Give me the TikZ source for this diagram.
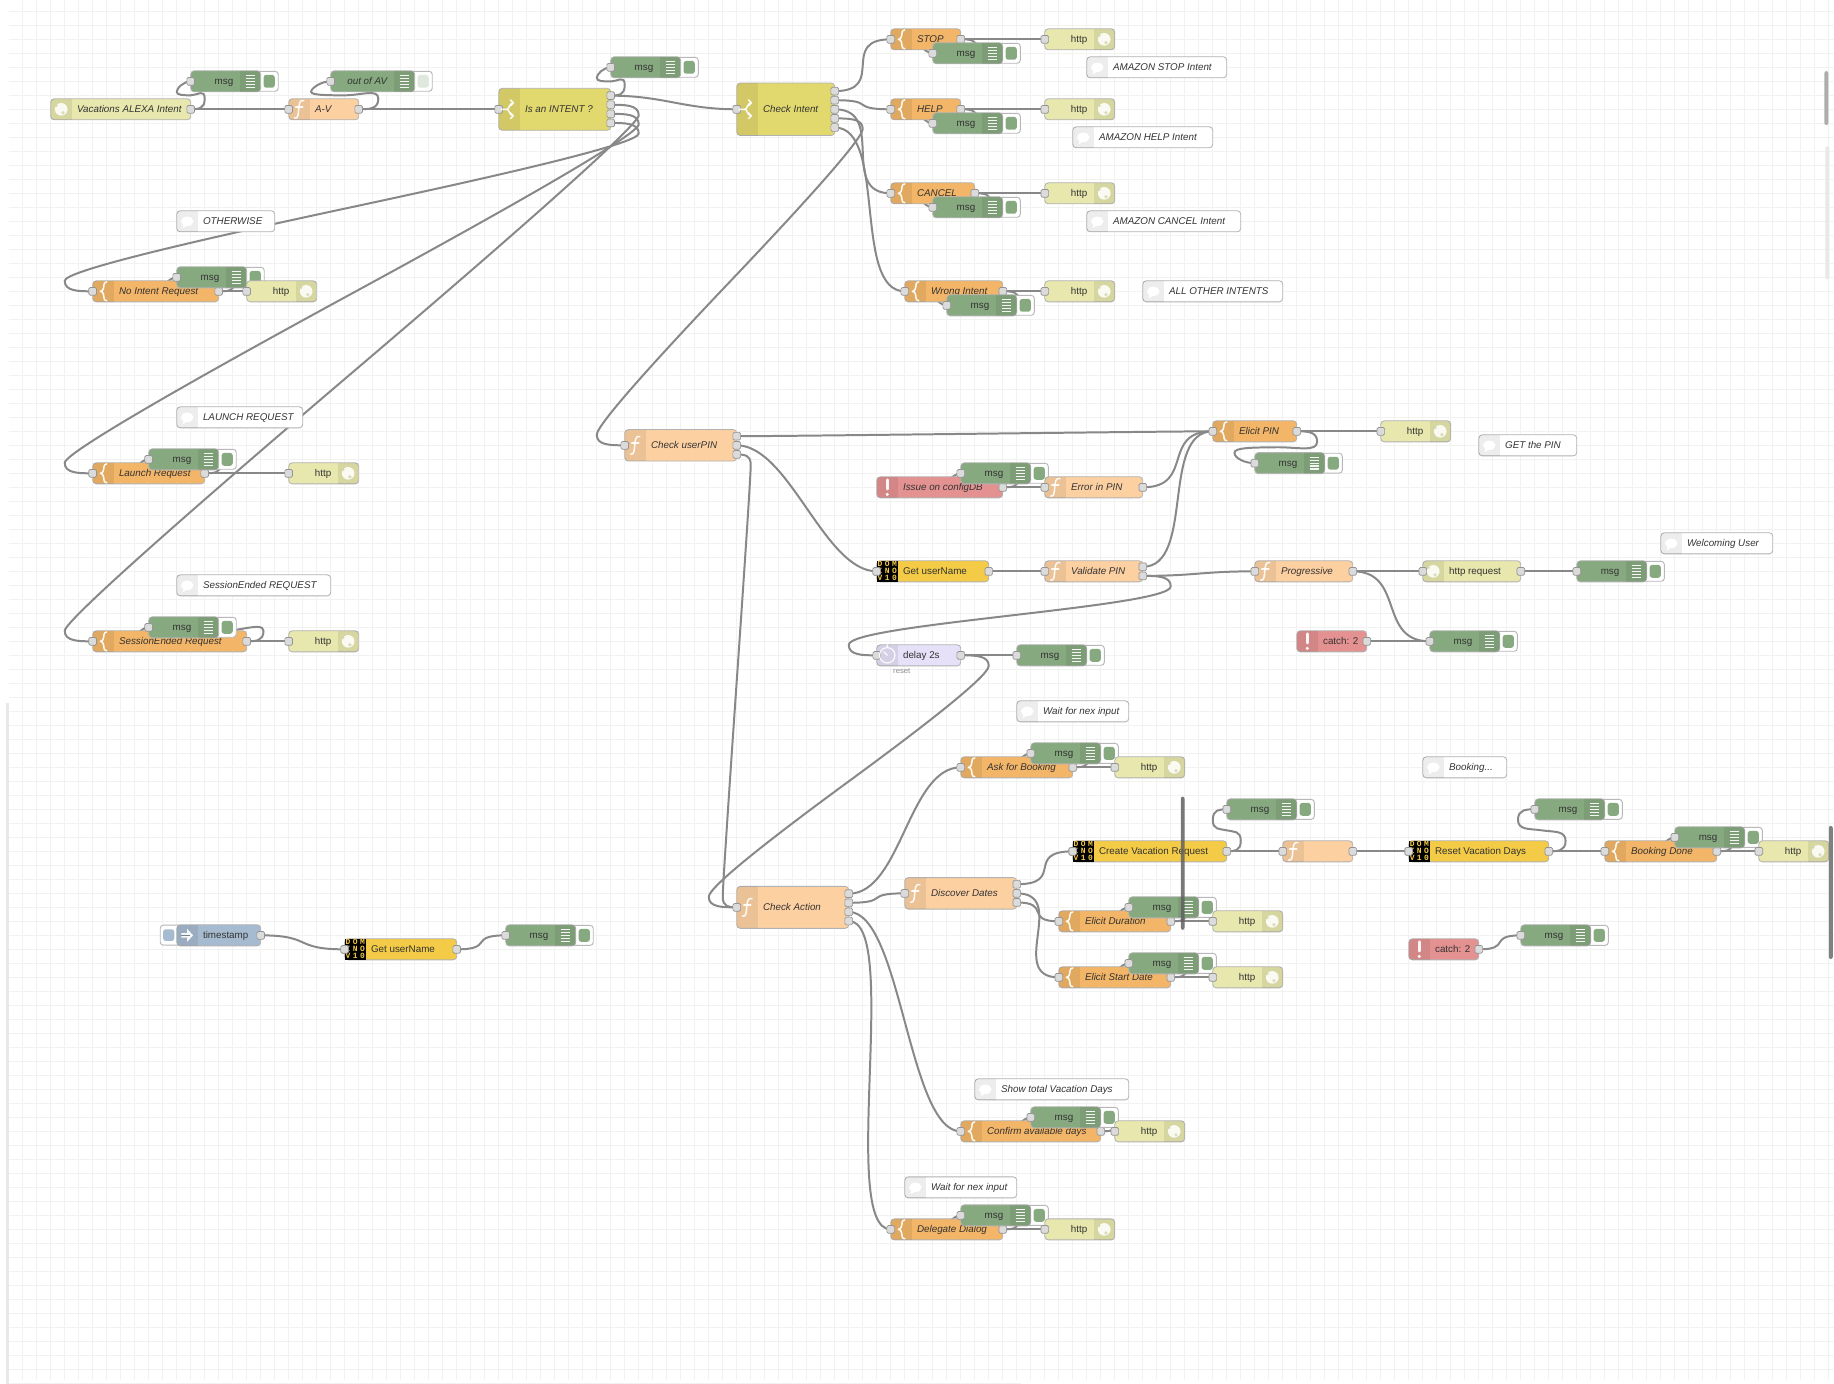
\documentclass[tikz,border=0pt]{standalone}
\usepackage{fontspec}
\setmainfont{Liberation Sans}
\newfontfamily\domfont[LetterSpace=30]{Liberation Mono}
\pgfdeclarelayer{gridl}\pgfdeclarelayer{wires}
\pgfsetlayers{gridl,wires,main}
\definecolor{cgrid}{HTML}{F2F2F2}
\definecolor{cwire}{HTML}{888888}
\definecolor{ctext}{HTML}{333333}
\definecolor{chttp}{HTML}{E7E7AE}
\definecolor{ctmpl}{HTML}{F3B567}
\definecolor{cfunc}{HTML}{FDD0A2}
\definecolor{cswi}{HTML}{E2D96E}
\definecolor{cdebug}{HTML}{87A980}
\definecolor{ccatch}{HTML}{E49191}
\definecolor{cdelay}{HTML}{E6E0F8}
\definecolor{cinj}{HTML}{A6BBCF}
\definecolor{cdom}{HTML}{F3CB46}
\definecolor{coff}{HTML}{DFE8DC}
\tikzset{
  nrbody/.style={rectangle,draw=black!30,line width=.35pt,rounded corners=1.5pt,inner sep=0pt,outer sep=0pt},
  nrport/.style={rectangle,draw=black!42,fill=black!14,line width=.3pt,rounded corners=.6pt,minimum size=3.3pt,inner sep=0pt,outer sep=0pt},
  nrtext/.style={inner sep=0pt,outer sep=0pt,text=ctext,text height=3pt,text depth=.9pt,yshift=-.35pt,font=\fontsize{4.2}{5}\selectfont},
  nrwire/.style={draw=cwire,line width=.85pt,line join=round},
  nricon/.style={draw=white,line width=.65pt,line cap=round,line join=round,opacity=.92},
}
\def\NWu{59.85}\def\CPu{8.975}
% wire: Node-RED link geometry, in picture units (y downwards)
\newcommand\wire[2]{%
  \pgfpointanchor{#1}{center}\pgfgetlastxy{\wxa}{\wya}%
  \pgfpointanchor{#2}{center}\pgfgetlastxy{\wxb}{\wyb}%
  \pgfmathsetmacro\ox{2*\wxa}\pgfmathsetmacro\oy{-2*\wya}%
  \pgfmathsetmacro\tx{2*\wxb}\pgfmathsetmacro\ty{-2*\wyb}%
  \pgfmathsetmacro\wdx{\tx-\ox}\pgfmathsetmacro\wdy{\ty-\oy}%
  \begin{pgfonlayer}{wires}%
  \ifdim\wdx pt>0.5pt
    \pgfmathsetmacro\wD{veclen(\wdx,\wdy)}%
    \pgfmathsetmacro\wS{0.75}%
    \ifdim\wD pt<\NWu pt \pgfmathsetmacro\wS{0.75*\wD/\NWu}\fi
    \pgfmathsetmacro\ca{\ox+\wS*\NWu}\pgfmathsetmacro\cb{\tx-\wS*\NWu}%
    \draw[nrwire] (#1.center) .. controls (\ca,\oy) and (\cb,\ty) .. (#2.center);
  \else
    \pgfmathsetmacro\wAx{abs(\wdx)}\pgfmathsetmacro\wAy{abs(\wdy)}%
    \pgfmathsetmacro\wS{0.4-0.2*max(0,(\NWu-min(\wAx,\wAy))/\NWu)}%
    \pgfmathsetmacro\mX{\tx-\wdx/2}\pgfmathsetmacro\mY{\ty-\wdy/2}%
    \pgfmathsetmacro\yone{(\ty+\mY)/2}%
    \pgfmathsetmacro\topX{\ox+\NWu*\wS}\pgfmathsetmacro\botX{\tx-\NWu*\wS}%
    \pgfmathsetmacro\xone{(\ox+\topX)/2}\pgfmathsetmacro\xtwo{(\topX+\mX)/2}\pgfmathsetmacro\xthr{(\tx+\botX)/2}%
    \ifdim\wdy pt>0pt
      \pgfmathsetmacro\topY{min(\yone-\wdy/2,\oy)+\CPu}%
      \pgfmathsetmacro\botY{max(\yone,\ty)-\CPu}%
      \pgfmathsetmacro\cA{max(\oy,\topY-\CPu)}%
      \pgfmathsetmacro\cC{max(\mY,\botY-\CPu)}%
    \else
      \pgfmathsetmacro\topY{max(\yone-\wdy/2,\oy)-\CPu}%
      \pgfmathsetmacro\botY{min(\yone,\ty)+\CPu}%
      \pgfmathsetmacro\cA{min(\oy,\topY+\CPu)}%
      \pgfmathsetmacro\cC{min(\mY,\botY+\CPu)}%
    \fi
    \pgfmathsetmacro\wK{max(0,1-24/max(\wAy,1))}%
    \pgfmathsetmacro\cBy{\mY-\wK*0.5*(\mY-\topY)}%
    \pgfmathsetmacro\cAm{2*\topY-\cA}%
    \pgfmathsetmacro\cBmx{2*\mX-\xtwo}\pgfmathsetmacro\cBmy{2*\mY-\cBy}%
    \pgfmathsetmacro\cCm{2*\botY-\cC}%
    \draw[nrwire] (#1.center) .. controls (\xone,\oy) and (\topX,\cA) .. (\topX,\topY)
       .. controls (\topX,\cAm) and (\xtwo,\cBy) .. (\mX,\mY)
       .. controls (\cBmx,\cBmy) and (\botX,\cC) .. (\botX,\botY)
       .. controls (\botX,\cCm) and (\xthr,\ty) .. (#2.center);
  \fi
  \end{pgfonlayer}%
}
\newif\ifnrsnap\nrsnaptrue
\newcommand\snapxy[3]{%
  \ifnrsnap
    \pgfmathsetmacro\sxl{7.44+5.985*round((#1-7.44)/5.985)}%
    \pgfmathsetmacro\sxr{7.44+5.985*round((#2-7.44)/5.985)}%
    \pgfmathsetmacro\syc{9.66+5.985*round((#3-9.66)/5.985)}%
  \else
    \def\sxl{#1}\def\sxr{#2}\def\syc{#3}%
  \fi}
% name, color, xl, xr, yc, nout, hasin, side of icon
\newcommand\nrbase[8]{%
  \snapxy{#3}{#4}{#5}%
  \pgfmathsetmacro\nrH{max(18,#6*8.98)}%
  \pgfmathsetmacro\nrHp{\nrH*0.5}%
  \pgfmathsetmacro\nrWp{(\sxr-\sxl)*0.5}%
  \pgfmathsetmacro\nrX{(\sxl+\sxr)/2}%
  \pgfmathsetmacro\nrT{\syc-\nrH/2}%
  \pgfmathsetmacro\nrB{\syc+\nrH/2}%
  \node[nrbody,fill=#2,minimum width=\nrWp pt,minimum height=\nrHp pt] (#1) at (\nrX,\syc) {};
  \begin{scope}
    \clip[rounded corners=1.5pt] (\sxl,\nrT) rectangle (\sxr,\nrB);
    \if#8L
      \pgfmathsetmacro\nrS{\sxl+18}%
      \fill[black,opacity=.07] (\sxl,\nrT) rectangle (\nrS,\nrB);
    \else
      \pgfmathsetmacro\nrS{\sxr-18}%
      \fill[black,opacity=.07] (\nrS,\nrT) rectangle (\sxr,\nrB);
    \fi
  \end{scope}
  \ifnum#7=1 \node[nrport] (#1-i) at (\sxl,\syc) {};\fi
  \ifnum#6>0
    \pgfmathtruncatemacro\nrN{#6-1}%
    \foreach \i in {0,...,\nrN}{%
      \pgfmathsetmacro\nrPy{\syc+(-(#6-1)/2+\i)*7.78}%
      \node[nrport] (#1-o\i) at (\sxr,\nrPy) {};
    }%
  \fi
  \pgfmathsetmacro\icL{\sxl+9}\pgfmathsetmacro\icR{\sxr-9}%
}
\newcommand\lblL[2]{\pgfmathsetmacro\nrtx{\sxl+22.5}\node[nrtext,anchor=west] (#1-t) at (\nrtx,\syc) {#2};}
\newcommand\lblR[2]{\pgfmathsetmacro\nrtx{\sxr-23.5}\node[nrtext,anchor=east] (#1-t) at (\nrtx,\syc) {#2};}
% icons
\newcommand\icGlobe[2]{\fill[white,opacity=.88] (#1,#2) circle (2.7pt);
  \fill[chttp!85!black,opacity=.55] (#1+1.5,#2+3) circle (.8pt);\fill[chttp!85!black,opacity=.55] (#1-4,#2-3) circle (.55pt);}
\newcommand\icF[2]{\draw[nricon] (#1+4,#2-7.5) .. controls (#1,#2-8.5) and (#1,#2-4) .. (#1-.5,#2) .. controls (#1-.8,#2+4) and (#1-1,#2+8.5) .. (#1-4,#2+7.5);
  \draw[nricon] (#1-3,#2-2) -- (#1+3,#2-2);}
\newcommand\icB[2]{\draw[nricon] (#1+3,#2-8) .. controls (#1+.3,#2-8) and (#1+.6,#2-5) .. (#1+.3,#2-3) .. controls (#1+.2,#2-1) and (#1-1,#2-.3) .. (#1-2.5,#2)
   .. controls (#1-1,#2+.3) and (#1+.2,#2+1) .. (#1+.3,#2+3) .. controls (#1+.6,#2+5) and (#1+.3,#2+8) .. (#1+3,#2+8);}
\newcommand\icS[2]{\draw[nricon] (#1-7,#2) -- (#1-2,#2) .. controls (#1,#2) and (#1,#2-5) .. (#1+3,#2-5.5);
  \draw[nricon] (#1-2,#2) .. controls (#1,#2) and (#1,#2+5) .. (#1+3,#2+5.5);
  \draw[nricon] (#1+1,#2-8) -- (#1+3.5,#2-5.5) -- (#1+1,#2-3);
  \draw[nricon] (#1+1,#2+3) -- (#1+3.5,#2+5.5) -- (#1+1,#2+8);}
\newcommand\icC[2]{\fill[white] (#1,#2) ellipse (2.7pt and 2pt);\fill[white] (#1-3,#2+2) -- (#1-4,#2+6) -- (#1+1,#2+3) -- cycle;}
\newcommand\icX[2]{\draw[nricon,line width=1.1pt] (#1,#2-6.5) -- (#1,#2+1.5);\fill[white,opacity=.92] (#1,#2+6) circle (.75pt);}
\newcommand\icD[2]{\draw[nricon,line width=.5pt] (#1,#2) circle (3.3pt);\draw[nricon,line width=.5pt] (#1-3,#2-3) -- (#1,#2) (#1,#2-9) -- (#1,#2-7);}
\newcommand\icI[2]{\fill[white,opacity=.9] (#1-5,#2-2) -- (#1,#2-2) -- (#1,#2-5.5) -- (#1+5,#2) -- (#1,#2+5.5) -- (#1,#2+2) -- (#1-5,#2+2) -- cycle;
  \draw[cinj!70!black,line width=.3pt] (#1-5,#2) -- (#1+2.5,#2);}
% node types
\newcommand\httpin[5]{\nrbase{#1}{chttp}{#2}{#3}{#4}{1}{0}{L}\icGlobe{\icL}{\syc}\lblL{#1}{\itshape #5}}
\newcommand\httpres[4]{\nrbase{#1}{chttp}{#2}{#3}{#4}{0}{1}{R}\icGlobe{\icR}{\syc}\lblR{#1}{http}}
\newcommand\httpreq[5]{\nrbase{#1}{chttp}{#2}{#3}{#4}{1}{1}{L}\icGlobe{\icL}{\syc}\lblL{#1}{#5}}
\newcommand\tmpl[5]{\nrbase{#1}{ctmpl}{#2}{#3}{#4}{1}{1}{L}\icB{\icL}{\syc}\lblL{#1}{\itshape #5}}
\newcommand\func[6]{\nrbase{#1}{cfunc}{#2}{#3}{#4}{#5}{1}{L}\icF{\icL}{\syc}\lblL{#1}{\itshape #6}}
\newcommand\swi[6]{\nrbase{#1}{cswi}{#2}{#3}{#4}{#5}{1}{L}\icS{\icL}{\syc}\lblL{#1}{\itshape #6}}
\newcommand\cmt[5]{\nrbase{#1}{white}{#2}{#3}{#4}{0}{0}{L}\icC{\icL}{\syc}\lblL{#1}{\itshape #5}}
\newcommand\catchn[5]{\nrbase{#1}{ccatch}{#2}{#3}{#4}{1}{0}{L}\icX{\icL}{\syc}\lblL{#1}{#5}}
\newcommand\dominon[5]{\nrbase{#1}{cdom}{#2}{#3}{#4}{1}{1}{L}\pgfmathsetmacro\ica{\sxl+18}\pgfmathsetmacro\icT{\syc-9}\pgfmathsetmacro\icU{\syc+9}%
  \fill[black] (\sxl,\icT) rectangle (\ica,\icU);
  \node[inner sep=0pt,align=center,text=cdom,font=\fontsize{3.4}{3}\domfont\bfseries] (#1-ic) at (\icL,\syc) {DOM\\INO\\V10};
  \node[nrport] at (#1-i) {};\lblL{#1}{#5}}
\newcommand\debugbase[6]{% name xl xr yc text innercolor
  \snapxy{#2}{#3}{#4}%
  \pgfmathsetmacro\dbA{\sxr-5}\pgfmathsetmacro\dbB{\sxr+15}\pgfmathsetmacro\dbT{\syc-8.5}\pgfmathsetmacro\dbU{\syc+8.5}%
  \pgfmathsetmacro\dbC{\sxr+2.5}\pgfmathsetmacro\dbD{\sxr+12}\pgfmathsetmacro\dbE{\syc-5.5}\pgfmathsetmacro\dbF{\syc+5.5}%
  \draw[fill=white,draw=black!28,line width=.4pt,rounded corners=1.3pt] (\dbA,\dbT) rectangle (\dbB,\dbU);
  \fill[#6,rounded corners=1.1pt] (\dbC,\dbE) rectangle (\dbD,\dbF);
  \nrbase{#1}{cdebug}{#2}{#3}{#4}{0}{1}{R}
  \pgfmathsetmacro\dbG{\sxr-13}\pgfmathsetmacro\dbH{\sxr-5}%
  \foreach \k in {-5,-2.5,0,2.5,5}{\pgfmathsetmacro\dbY{\syc+\k}\draw[white,line width=.55pt,opacity=.9] (\dbG,\dbY) -- (\dbH,\dbY);}
  \lblR{#1}{#5}}
\newcommand\debugn[4]{\debugbase{#1}{#2}{#3}{#4}{msg}{cdebug}}
\begin{document}
\begin{tikzpicture}[x=0.5pt,y=-0.5pt]
\useasboundingbox (0,0) rectangle (1568,1183);
\begin{pgfonlayer}{gridl}
  \fill[white] (0,0) rectangle (1568,1183);
  \foreach \k in {0,...,130}{\pgfmathsetmacro\gx{19.41+11.97*\k}\draw[cgrid,line width=.45pt] (\gx,0) -- (\gx,1180);}
  \foreach \k in {0,...,97}{\pgfmathsetmacro\gy{9.66+11.97*\k}\draw[cgrid,line width=.45pt] (7.4,\gy) -- (1568,\gy);}
  \draw[cgrid,line width=.45pt] (7.4,1182.6) -- (873,1182.6);
\end{pgfonlayer}
% top-left flow
\debugn{ma}{163}{223}{69}
\httpin{vac}{44}{163}{93}{Vacations ALEXA Intent}
\debugbase{oav}{283}{355}{69}{\itshape out of AV}{coff}
\func{av}{247}{307}{93}{1}{A-V}
\swi{isi}{426}{522}{93}{4}{Is an INTENT ?}
\debugn{mb}{522}{582}{57}
\swi{chk}{630}{714}{93}{5}{Check Intent}
% intents
\tmpl{stop}{761}{821}{33}{STOP}\debugn{mstop}{797}{857}{45}\httpres{hstop}{893}{953}{33}
\cmt{cstop}{929}{1048}{57}{AMAZON STOP Intent}
\tmpl{help}{761}{821}{93}{HELP}\debugn{mhelp}{797}{857}{105}\httpres{hhelp}{893}{953}{93}
\cmt{chelp}{917}{1036}{117}{AMAZON HELP Intent}
\tmpl{canc}{761}{833}{165}{CANCEL}\debugn{mcanc}{797}{857}{177}\httpres{hcanc}{893}{953}{165}
\cmt{ccanc}{929}{1060}{189}{AMAZON CANCEL Intent}
\tmpl{wrong}{773}{857}{249}{Wrong Intent}\debugn{mwrong}{809}{869}{261}\httpres{hwrong}{893}{953}{249}
\cmt{cwrong}{977}{1096}{249}{ALL OTHER INTENTS}
% left column
\cmt{coth}{151}{235}{189}{OTHERWISE}
\tmpl{noi}{79}{187}{249}{No Intent Request}\debugn{mnoi}{151}{211}{237}\httpres{hnoi}{211}{271}{249}
\cmt{clau}{151}{259}{357}{LAUNCH REQUEST}
\tmpl{lau}{79}{175}{405}{Launch Request}\debugn{mlau}{127}{187}{393}\httpres{hlau}{247}{307}{405}
\cmt{cses}{151}{283}{500}{SessionEnded REQUEST}
\tmpl{ses}{79}{211}{548}{SessionEnded Request}\debugn{mses}{127}{187}{536}\httpres{hses}{247}{307}{548}
% PIN
\func{upin}{534}{630}{380}{3}{Check userPIN}
\tmpl{epin}{1036}{1108}{369}{Elicit PIN}\httpres{hepin}{1180}{1240}{369}
\nrsnapfalse\debugn{mepin}{1072.8}{1132.6}{396}\nrsnaptrue
\cmt{cepin}{1264}{1347}{381}{GET the PIN}
\catchn{issue}{749}{857}{417}{\itshape Issue on configDB}\debugn{missue}{821}{881}{405}
\func{err}{893}{977}{417}{1}{Error in PIN}
\dominon{gun}{749}{845}{489}{Get userName}
\func{val}{893}{977}{489}{2}{Validate PIN}
\func{prog}{1072}{1156}{489}{1}{Progressive}
\httpreq{hreq}{1216}{1300}{489}{http request}
\debugn{mreq}{1348}{1408}{489}
\cmt{cwel}{1419}{1515}{464}{Welcoming User}
\catchn{cat}{1108}{1168}{548}{catch: 2}
\debugn{mcat}{1222}{1282}{548}
\nrbase{dly}{cdelay}{749}{821}{561}{1}{1}{L}\icD{\icL}{\syc}\lblL{dly}{delay 2s}
\node[inner sep=0pt,text=black!45,font=\fontsize{3.3}{4}\selectfont] (dlyr) at (771,574) {reset};
\debugn{mdly}{869}{929}{561}
\cmt{cwait}{869}{965}{608}{Wait for nex input}
% actions
\tmpl{ask}{821}{917}{656}{Ask for Booking}\debugn{mask}{881}{941}{644}\httpres{hask}{953}{1013}{656}
\cmt{cbook}{1216}{1288}{656}{Booking...}
\dominon{cvr}{917}{1049}{728}{Create Vacation Request}
\debugn{mcvr}{1048}{1108}{692}
\func{blank}{1096}{1156}{728}{1}{}
\dominon{rvd}{1204}{1324}{728}{Reset Vacation Days}
\debugn{mrvd}{1311}{1371}{692}
\tmpl{bdone}{1371}{1467}{728}{Booking Done}\debugn{mbd}{1431}{1491}{716}\httpres{hbd}{1503}{1563}{728}
\func{cact}{630}{726}{775}{4}{Check Action}
\func{dis}{773}{869}{763}{3}{Discover Dates}
\tmpl{edu}{905}{1001}{788}{Elicit Duration}\debugn{medu}{965}{1025}{776}\httpres{hedu}{1036}{1096}{788}
\tmpl{esd}{905}{1001}{835}{Elicit Start Date}\debugn{mesd}{965}{1025}{823}\httpres{hesd}{1036}{1096}{835}
\catchn{catb}{1204}{1264}{811}{catch: 2}
\debugn{mcatb}{1300}{1360}{799}
% timestamp flow
\draw[fill=white,draw=black!28,line width=.4pt,rounded corners=1.3pt] (137,791) rectangle (156,808);
\fill[cinj,rounded corners=1.1pt] (139.5,794.5) rectangle (149,804.5);
\nrbase{ts}{cinj}{151}{223}{799}{1}{0}{L}\icI{\icL}{\syc}\lblL{ts}{timestamp}
\dominon{gunb}{295}{391}{811}{Get userName}
\debugn{mts}{432}{492}{799}
% lower
\cmt{cshow}{833}{965}{931}{Show total Vacation Days}
\tmpl{conf}{821}{941}{967}{Confirm available days}\debugn{mconf}{881}{941}{955}\httpres{hconf}{953}{1013}{967}
\cmt{cwaitb}{773}{869}{1015}{Wait for nex input}
\tmpl{dele}{761}{857}{1051}{Delegate Dialog}\debugn{mdele}{821}{881}{1039}\httpres{hdele}{893}{953}{1051}
% wires
\wire{vac-o0}{ma-i}\wire{vac-o0}{av-i}\wire{av-o0}{oav-i}\wire{av-o0}{isi-i}
\wire{isi-o0}{mb-i}\wire{isi-o0}{chk-i}\wire{isi-o1}{ses-i}\wire{isi-o2}{lau-i}\wire{isi-o3}{noi-i}
\wire{chk-o0}{stop-i}\wire{chk-o1}{help-i}\wire{chk-o2}{canc-i}\wire{chk-o3}{upin-i}\wire{chk-o4}{wrong-i}
\wire{stop-o0}{mstop-i}\wire{stop-o0}{hstop-i}
\wire{help-o0}{mhelp-i}\wire{help-o0}{hhelp-i}
\wire{canc-o0}{mcanc-i}\wire{canc-o0}{hcanc-i}
\wire{wrong-o0}{mwrong-i}\wire{wrong-o0}{hwrong-i}
\wire{noi-o0}{mnoi-i}\wire{noi-o0}{hnoi-i}
\wire{lau-o0}{mlau-i}\wire{lau-o0}{hlau-i}
\wire{ses-o0}{mses-i}\wire{ses-o0}{hses-i}
\wire{upin-o0}{epin-i}\wire{upin-o1}{gun-i}\wire{upin-o2}{cact-i}
\wire{epin-o0}{hepin-i}\wire{epin-o0}{mepin-i}
\wire{issue-o0}{missue-i}\wire{issue-o0}{err-i}\wire{err-o0}{epin-i}
\wire{gun-o0}{val-i}\wire{val-o0}{epin-i}\wire{val-o1}{prog-i}\wire{val-o1}{dly-i}
\wire{prog-o0}{hreq-i}\wire{prog-o0}{mcat-i}\wire{hreq-o0}{mreq-i}\wire{cat-o0}{mcat-i}
\wire{dly-o0}{mdly-i}\wire{dly-o0}{cact-i}
\wire{cact-o0}{ask-i}\wire{cact-o1}{dis-i}\wire{cact-o2}{conf-i}\wire{cact-o3}{dele-i}
\wire{ask-o0}{mask-i}\wire{ask-o0}{hask-i}
\wire{dis-o0}{cvr-i}\wire{dis-o1}{esd-i}\wire{dis-o2}{edu-i}
\wire{cvr-o0}{mcvr-i}\wire{cvr-o0}{blank-i}\wire{blank-o0}{rvd-i}
\wire{rvd-o0}{mrvd-i}\wire{rvd-o0}{bdone-i}
\wire{bdone-o0}{mbd-i}\wire{bdone-o0}{hbd-i}
\wire{edu-o0}{medu-i}\wire{edu-o0}{hedu-i}
\wire{esd-o0}{mesd-i}\wire{esd-o0}{hesd-i}
\wire{catb-o0}{mcatb-i}
\wire{ts-o0}{gunb-i}\wire{gunb-o0}{mts-i}
\wire{conf-o0}{mconf-i}\wire{conf-o0}{hconf-i}
\wire{dele-o0}{mdele-i}\wire{dele-o0}{hdele-i}
% scroll bars
\fill[black!62,opacity=.85,rounded corners=1pt] (1009.5,681) rectangle (1012.8,795);
\fill[black!50,rounded corners=1pt] (1563.5,706) rectangle (1567,820);
\fill[black!32,rounded corners=1pt] (1559.7,60.7) rectangle (1563.2,107);
\fill[black!9,rounded corners=1pt] (1560.6,125) rectangle (1564,239);
\fill[black!9] (5,601) rectangle (7.3,1183);
\end{tikzpicture}
\end{document}
